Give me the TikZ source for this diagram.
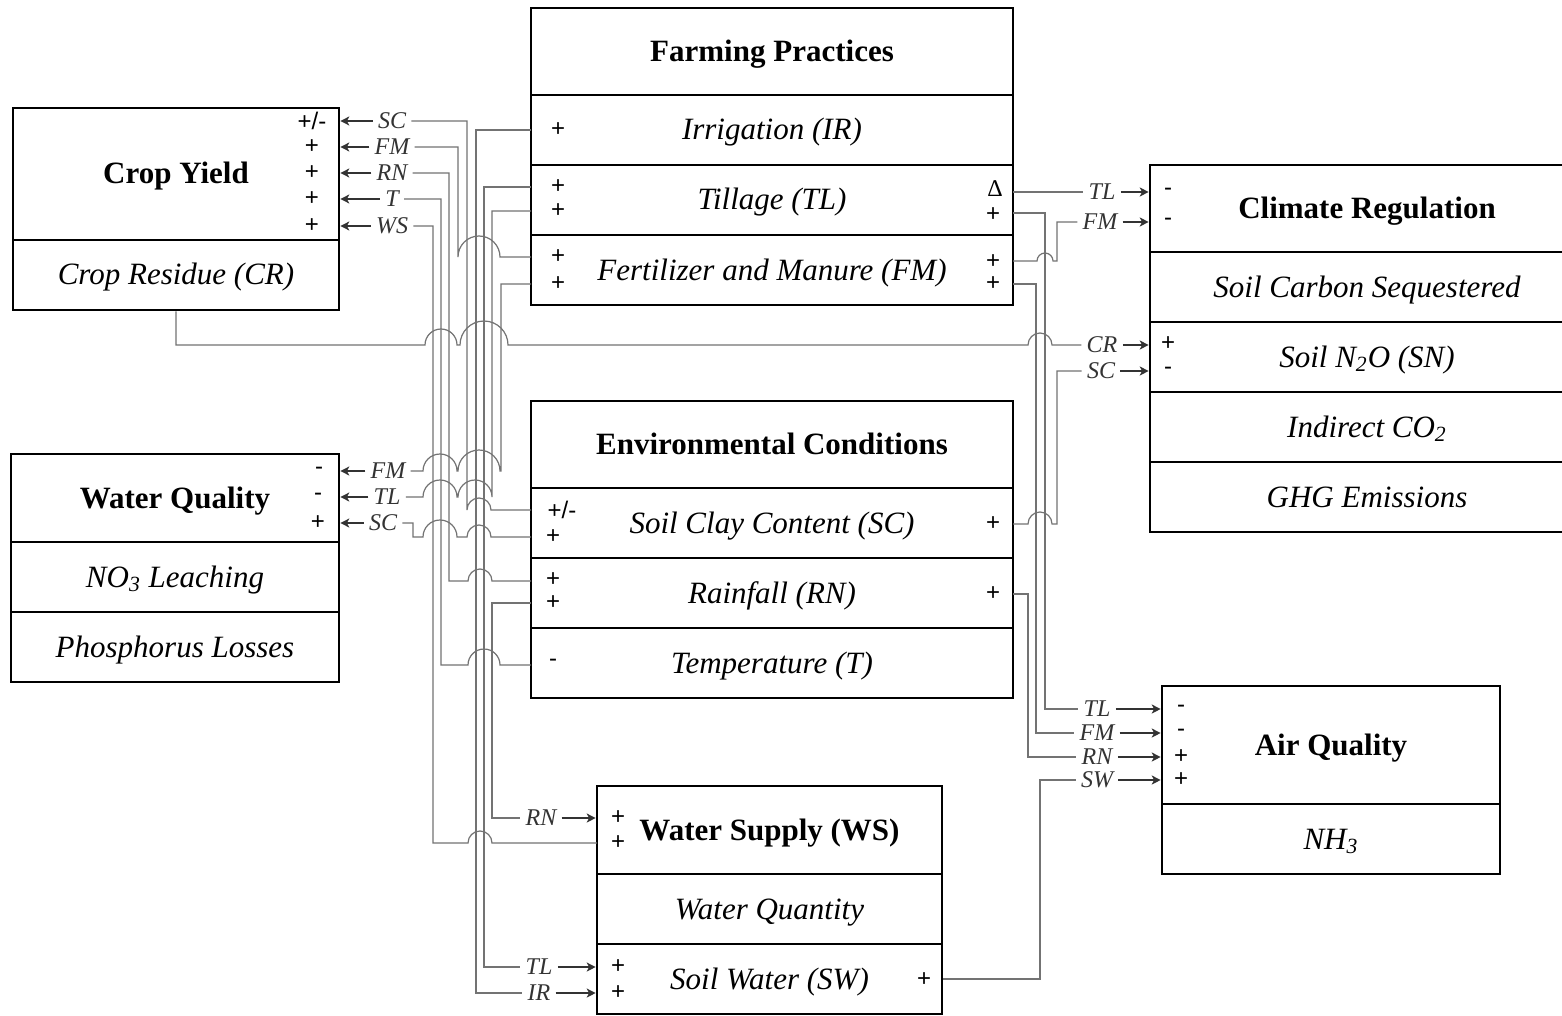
\documentclass[tikz,border=0pt]{standalone}
\usepackage{fontspec}
\setmainfont{Liberation Serif}
\setsansfont{Liberation Sans}
\usetikzlibrary{arrows.meta}
\newcommand{\pmsign}{+/-}
\begin{document}
\begin{tikzpicture}[x=0.5pt, y=-0.5pt,
        cell/.style={draw, line width=1.3pt, inner sep=0pt, text height=11pt, text depth=1pt, font=\itshape\fontsize{15.5}{18}\selectfont},
        head/.style={cell, font=\bfseries\fontsize{15.5}{18}\selectfont},
        lab/.style={inner sep=2.5pt, text=black!80, font=\itshape\fontsize{12}{14}\selectfont},
        sgn/.style={inner sep=0pt, font=\sffamily\fontsize{12}{14}\selectfont},
        wire/.style={draw=black!55, line width=0.6pt},
        arr/.style={draw=black!80, line width=0.6pt, -{Stealth[length=4.5pt,width=4.5pt,inset=1.2pt]}}]

    \path[use as bounding box, fill=white] (0,0) rectangle (1562,1016);

    % Farming Practices
    \node[head, minimum width=241pt, minimum height=43.5pt] (fp) at (772,51.5) {Farming Practices};
    \node[cell, minimum width=241pt, minimum height=35pt] (ir) at (772,130) {Irrigation (IR)};
    \node[cell, minimum width=241pt, minimum height=35pt] (tl) at (772,200) {Tillage (TL)};
    \node[cell, minimum width=241pt, minimum height=35pt] (fm) at (772,270) {Fertilizer and Manure (FM)};

    % Environmental Conditions
    \node[head, minimum width=241pt, minimum height=43.5pt] (ec) at (772,444.5) {Environmental Conditions};
    \node[cell, minimum width=241pt, minimum height=35pt] (sc) at (772,523) {Soil Clay Content (SC)};
    \node[cell, minimum width=241pt, minimum height=35pt] (rn) at (772,593) {Rainfall (RN)};
    \node[cell, minimum width=241pt, minimum height=35pt] (tp) at (772,663) {Temperature (T)};

    % Crop Yield
    \node[head, minimum width=163pt, minimum height=66pt] (cy) at (176,174) {Crop Yield};
    \node[cell, minimum width=163pt, minimum height=35pt] (cr) at (176,275) {Crop Residue (CR)};

    % Water Quality
    \node[head, minimum width=164pt, minimum height=44pt] (wq) at (175,498) {Water Quality};
    \node[cell, minimum width=164pt, minimum height=35pt] (no) at (175,577) {NO\textsubscript{3} Leaching};
    \node[cell, minimum width=164pt, minimum height=35pt] (pl) at (175,647) {Phosphorus Losses};

    % Climate Regulation
    \node[head, minimum width=217pt, minimum height=43.5pt] (cl) at (1367,208.5) {Climate Regulation};
    \node[cell, minimum width=217pt, minimum height=35pt] (cs) at (1367,287) {Soil Carbon Sequestered};
    \node[cell, minimum width=217pt, minimum height=35pt] (sn) at (1367,357) {Soil N\textsubscript{2}O (SN)};
    \node[cell, minimum width=217pt, minimum height=35pt] (co) at (1367,427) {Indirect CO\textsubscript{2}};
    \node[cell, minimum width=217pt, minimum height=35pt] (gh) at (1367,497) {GHG Emissions};

    % Air Quality
    \node[head, minimum width=169pt, minimum height=59pt] (aq) at (1331,745) {Air Quality};
    \node[cell, minimum width=169pt, minimum height=35pt] (nh) at (1331,839) {NH\textsubscript{3}};

    % Water Supply
    \node[head, minimum width=172.5pt, minimum height=44pt] (ws) at (769.5,830) {Water Supply (WS)};
    \node[cell, minimum width=172.5pt, minimum height=35pt] (wn) at (769.5,909) {Water Quantity};
    \node[cell, minimum width=172.5pt, minimum height=35pt] (sw) at (769.5,979) {Soil Water (SW)};

    % signs
    \foreach \x/\y/\s [count=\i] in {312/121/\pmsign, 312/147/+, 312/173/+, 312/199/+, 312/226/+,
            319/471/-, 318/497/-, 318/523/+,
            558/130/+, 558/187/+, 558/211/+, 558/257/+, 558/284/+,
            995/189/{\rmfamily Δ}, 993/215/+, 993/262/+, 993/284/+,
            562/510/\pmsign, 553/537/+, 553/580/+, 553/603/+, 553/663/-, 993/524/+, 993/594/+,
            1168/192/-, 1168/222/-, 1168/344/+, 1168/371/-,
            1181/709/-, 1181/733/-, 1181/757/+, 1181/780/+,
            618/818/+, 618/843/+, 618/967/+, 618/993/+, 924/980/+}
        \node[sgn] (s\i) at (\x,\y) {\s};

    % labels
    \node[lab] (cySC) at (392,121) {SC};
    \node[lab] (cyFM) at (392,147) {FM};
    \node[lab] (cyRN) at (392,173) {RN};
    \node[lab] (cyT) at (392,199) {T};
    \node[lab] (cyWS) at (392,226) {WS};
    \node[lab] (wqFM) at (388,471) {FM};
    \node[lab] (wqTL) at (387,497) {TL};
    \node[lab] (wqSC) at (383,523) {SC};
    \node[lab] (clTL) at (1102,192) {TL};
    \node[lab] (clFM) at (1100,222) {FM};
    \node[lab] (clCR) at (1102,345) {CR};
    \node[lab] (clSC) at (1101,371) {SC};
    \node[lab] (aqTL) at (1097,709) {TL};
    \node[lab] (aqFM) at (1097,733) {FM};
    \node[lab] (aqRN) at (1097,757) {RN};
    \node[lab] (aqSW) at (1097,780) {SW};
    \node[lab] (wsRN) at (541,818) {RN};
    \node[lab] (swTL) at (539,967) {TL};
    \node[lab] (swIR) at (539,993) {IR};

    % wires into Crop Yield
    \draw[wire] (cySC.east) -| (467,510) arc[start angle=180, end angle=0, radius=6pt] -- (531,510);
    \draw[wire] (cyFM.east) -| (458,257) arc[start angle=180, end angle=0, radius=10.5pt] -- (531,257);
    \draw[wire] (cyRN.east) -| (449,581) -- (468,581) arc[start angle=180, end angle=0, radius=6pt] -- (531,581);
    \draw[wire] (cyT.east) -| (441,665) -- (468,665) arc[start angle=180, end angle=0, radius=8pt] -- (531,665);
    \draw[wire] (cyWS.east) -| (433,843) -- (468,843) arc[start angle=180, end angle=0, radius=6pt] -- (597,843);

    % wires into Water Quality
    \draw[wire] (wqFM.east) -- (423,471) arc[start angle=180, end angle=0, radius=8.5pt] -- (458,471)
        arc[start angle=180, end angle=0, radius=10.5pt] -- (501,471) |- (531,284);
    \draw[wire] (wqTL.east) -- (423,497) arc[start angle=180, end angle=0, radius=8.5pt] -- (458,497)
        arc[start angle=180, end angle=0, radius=8.5pt] -- (492,497) |- (531,211);
    \draw[wire] (wqSC.east) -| (413,537) -- (423,537) arc[start angle=180, end angle=0, radius=8.5pt] -- (467,537)
        arc[start angle=180, end angle=0, radius=6pt] -- (531,537);

    % wires into Water Supply
    \draw[wire] (531,603) -| (492,818) -- (wsRN.west);
    \draw[wire] (531,187) -| (484,967) -- (swTL.west);
    \draw[wire] (531,130) -| (476,993) -- (swIR.west);

    % crop residue
    \draw[wire] (cr.south) |- (425,345) arc[start angle=180, end angle=0, radius=8pt] -- (460,345)
        arc[start angle=180, end angle=0, radius=12pt] -- (1028,345)
        arc[start angle=180, end angle=0, radius=6pt] -- (clCR.west);

    % wires on the right
    \draw[wire] (1013,192) -- (clTL.west);
    \draw[wire] (1013,213) -| (1045,709) -- (aqTL.west);
    \draw[wire] (1013,261) -- (1037,261) arc[start angle=180, end angle=0, radius=4pt] -- (1057,261) |- (clFM.west);
    \draw[wire] (1013,284) -| (1036,733) -- (aqFM.west);
    \draw[wire] (1013,524) -- (1028,524) arc[start angle=180, end angle=0, radius=6pt] -- (1057,524) |- (clSC.west);
    \draw[wire] (1013,594) -| (1028,757) -- (aqRN.west);
    \draw[wire] (sw.east) -| (1040,780) -- (aqSW.west);

    % arrows
    \foreach \n in {cySC, cyFM, cyRN, cyT, cyWS}
        \draw[arr] (\n.west) -- (\n.west -| cy.east);
    \foreach \n in {wqFM, wqTL, wqSC}
        \draw[arr] (\n.west) -- (\n.west -| wq.east);
    \foreach \n in {clTL, clFM, clCR, clSC}
        \draw[arr] (\n.east) -- (\n.east -| cl.west);
    \foreach \n in {aqTL, aqFM, aqRN, aqSW}
        \draw[arr] (\n.east) -- (\n.east -| aq.west);
    \draw[arr] (wsRN.east) -- (wsRN.east -| ws.west);
    \draw[arr] (swTL.east) -- (swTL.east -| sw.west);
    \draw[arr] (swIR.east) -- (swIR.east -| sw.west);
\end{tikzpicture}
\end{document}
